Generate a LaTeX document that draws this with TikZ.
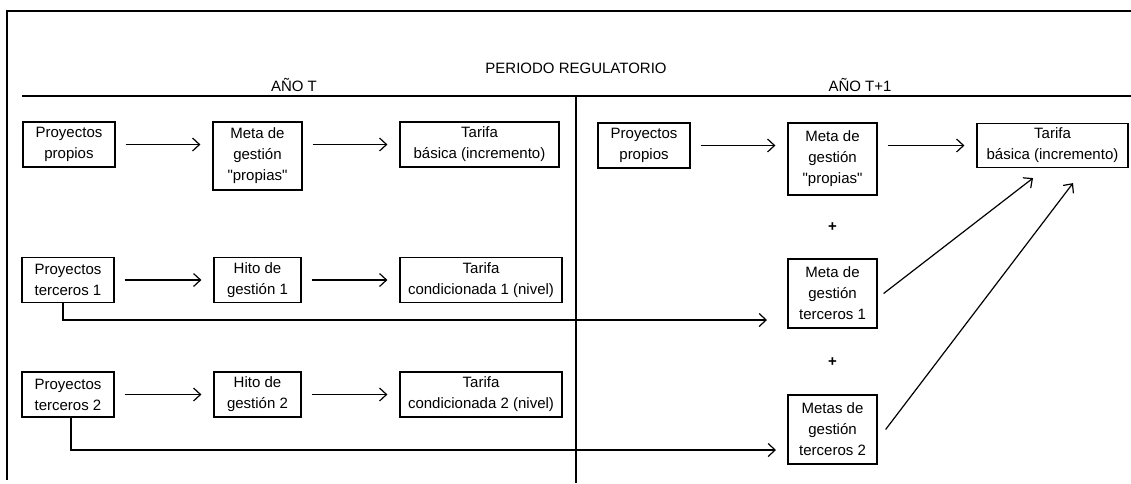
\documentclass[tikz,border=0pt]{standalone}
\usepackage{fontspec}
\setmainfont{Liberation Sans}[Ligatures=TeXOff]
\usetikzlibrary{arrows.meta}
\begin{document}
\begin{tikzpicture}[x=1pt,y=-1pt,
  box/.style={draw,line width=1.2pt,align=center,inner sep=2pt,font=\fontsize{15}{21}\selectfont},
  lbl/.style={font=\fontsize{15}{18}\selectfont},
  arr/.style={line width=1.2pt,-{Straight Barb[length=7pt,width=13pt]}},
  gap/.style={shorten <=10pt,shorten >=12pt}]
\useasboundingbox (0,0) rectangle (1131,483);
\draw [line width=1.5pt] (7,480) -- (7,11) -- (1131,11);
\draw [line width=1.3pt] (22,96) -- (1131,96);
\draw [line width=1.3pt] (576,96) -- (576,483);
\node[lbl] (periodo) at (576,68) {PERIODO REGULATORIO};
\node[lbl] (anoT) at (294,85) {AÑO T};
\node[lbl] (anoT1) at (860,85) {AÑO T+1};
\node[box,minimum width=92pt,minimum height=45pt] (pp1) at (69,144.5) {Proyectos\\propios};
\node[box,minimum width=89pt,minimum height=68pt] (mp1) at (257.5,156) {Meta de\\gestión\\"propias"};
\node[box,minimum width=159pt,minimum height=45pt] (tb1) at (479.5,144.5) {Tarifa\\básica (incremento)};
\node[box,minimum width=92pt,minimum height=45pt] (pt1) at (68,280) {Proyectos\\terceros 1};
\node[box,minimum width=87pt,minimum height=45pt] (hg1) at (257.5,280) {Hito de\\gestión 1};
\node[box,minimum width=162pt,minimum height=45pt] (tc1) at (481,280) {Tarifa\\condicionada 1 (nivel)};
\node[box,minimum width=92pt,minimum height=45pt] (pt2) at (68,394.5) {Proyectos\\terceros 2};
\node[box,minimum width=87pt,minimum height=45pt] (hg2) at (257.5,394.5) {Hito de\\gestión 2};
\node[box,minimum width=162pt,minimum height=45pt] (tc2) at (481,394.5) {Tarifa\\condicionada 2 (nivel)};
\node[box,minimum width=92pt,minimum height=45pt] (pp2) at (644,145.5) {Proyectos\\propios};
\node[box,minimum width=89pt,minimum height=72pt] (mp2) at (832.5,159) {Meta de\\gestión\\"propias"};
\node[box,minimum width=151pt,minimum height=44pt] (tb2) at (1052.5,145.5) {Tarifa\\básica (incremento)};
\node[lbl] (plus1) at (832.5,227) {\textbf{+}};
\node[box,minimum width=89pt,minimum height=69pt] (mt1) at (832.5,293.5) {Meta de\\gestión\\terceros 1};
\node[lbl] (plus2) at (832.5,362) {\textbf{+}};
\node[box,minimum width=89pt,minimum height=69pt] (mt2) at (832.5,429.5) {Metas de\\gestión\\terceros 2};
\draw[arr,gap] (pp1.east) -- (pp1.east -| mp1.west);
\draw[arr,gap] (tb1.west -| mp1.east) -- (tb1.west);
\draw[arr,gap] (pt1.east) -- (hg1.west);
\draw[arr,gap] (hg1.east) -- (tc1.west);
\draw[arr,gap] (pt2.east) -- (hg2.west);
\draw[arr,gap] (hg2.east) -- (tc2.west);
\draw[arr,gap] (pp2.east) -- (pp2.east -| mp2.west);
\draw[arr,gap] (tb2.west -| mp2.east) -- (tb2.west);
\coordinate (end1) at (767,320);
\coordinate (end2) at (776,450);
\draw[arr] ([xshift=-5pt]pt1.south) |- (end1);
\draw[arr] ([xshift=3pt]pt2.south) |- (end2);
\draw[arr] ([xshift=6pt]mt1.east) -- ([xshift=-19.5pt,yshift=-10pt]tb2.south);
\draw[arr] ([xshift=8pt]mt2.east) -- ([xshift=20.5pt,yshift=-15pt]tb2.south);
\end{tikzpicture}
\end{document}
